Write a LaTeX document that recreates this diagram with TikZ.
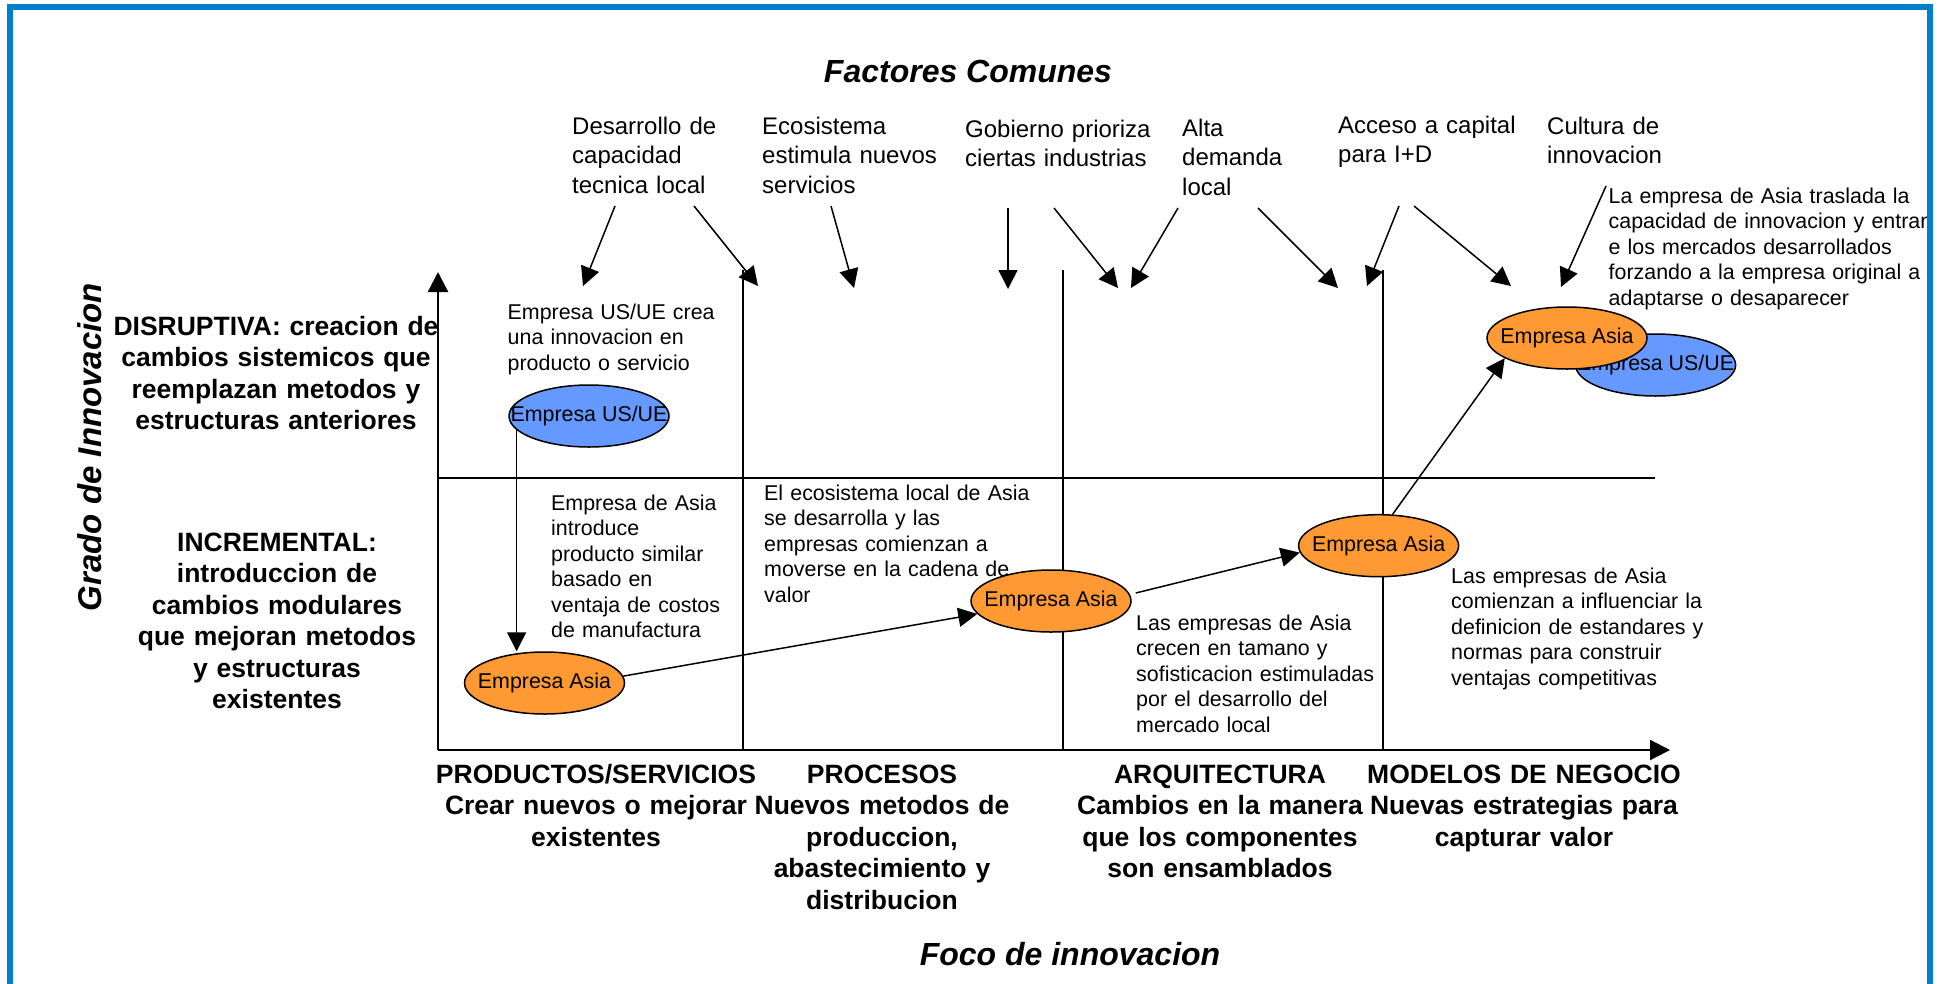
\documentclass[tikz,border=0pt]{standalone}
\usepackage{fontspec}
\setmainfont{Liberation Sans}
\usetikzlibrary{arrows.meta,shapes.geometric}
\definecolor{frameblue}{RGB}{0,128,204}
\definecolor{asiaorange}{RGB}{255,153,51}
\definecolor{usblue}{RGB}{102,153,255}
\tikzset{
  conn/.style={line width=1.5pt,-{Triangle[length=19pt,width=19pt]}},
  axisline/.style={line width=2.3pt,-{Triangle[length=20pt,width=20pt]}},
  divider/.style={line width=1.5pt},
  midline/.style={line width=2.3pt},
  emp/.style={ellipse,draw,line width=1.5pt,minimum width=160pt,minimum height=62pt,inner sep=0pt,font=\fontsize{21.4}{25}\selectfont},
  asia/.style={emp,fill=asiaorange},
  usue/.style={emp,fill=usblue},
  factor/.style={anchor=base west,inner sep=0pt,text width=260pt,align=left,font=\fontsize{24}{29.5}\selectfont},
  note/.style={anchor=base west,inner sep=0pt,text width=340pt,align=left,font=\fontsize{21.4}{25.5}\selectfont},
  cat/.style={anchor=base,inner sep=0pt,text width=400pt,align=center,font=\bfseries\fontsize{26.5}{31.5}\selectfont},
  bigtitle/.style={anchor=base,inner sep=0pt,font=\bfseries\itshape\fontsize{32}{38}\selectfont},
}
\begin{document}
\begin{tikzpicture}[x=1pt,y=-1pt]
\useasboundingbox (0,0) rectangle (1940,983);

% titles
\node[bigtitle] (title) at (968,82) {Factores Comunes};
\node[bigtitle] (xlab) at (1070,965) {Foco de innovacion};
\node[inner sep=0pt,rotate=90,font=\bfseries\itshape\fontsize{33}{40}\selectfont] (ylab) at (90,447) {Grado de Innovacion};

% grid
\coordinate (O) at (438,750);
\coordinate (ytop) at (438,272);
\coordinate (xend) at (1670,750);
\coordinate (mL) at (438,478);
\coordinate (mR) at (1655,478);
\coordinate (d1t) at (743,270);  \coordinate (d1b) at (743,750);
\coordinate (d2t) at (1063,270); \coordinate (d2b) at (1063,750);
\coordinate (d3t) at (1383,270); \coordinate (d3b) at (1383,750);
\draw[divider] (d1t) -- (d1b);
\draw[divider] (d2t) -- (d2b);
\draw[divider] (d3t) -- (d3b);
\draw[midline] (mL) -- (mR);
\draw[axisline] (O) -- (ytop);
\draw[axisline] (O) -- (xend);

% factor labels
\node[factor] (fDes) at (572,134) {Desarrollo de\\capacidad\\tecnica local};
\node[factor] (fEco) at (762,134) {Ecosistema\\estimula nuevos\\servicios};
\node[factor] (fGob) at (965,137) {Gobierno prioriza\\ciertas industrias};
\node[factor] (fAlta) at (1182,136) {Alta\\demanda\\local};
\node[factor] (fAcc) at (1338,133) {Acceso a capital\\para I+D};
\node[factor] (fCul) at (1547,134) {Cultura de\\innovacion};

% factor arrows
\coordinate (s1) at (615,206);  \coordinate (t1) at (583,286);
\coordinate (s2) at (694,206);  \coordinate (t2) at (758,286);
\coordinate (s3) at (831,206);  \coordinate (t3) at (854,288);
\coordinate (s4) at (1008,208); \coordinate (t4) at (1008,289);
\coordinate (s5) at (1054,208); \coordinate (t5) at (1118,288);
\coordinate (s6) at (1178,208); \coordinate (t6) at (1131,288);
\coordinate (s7) at (1258,208); \coordinate (t7) at (1338,288);
\coordinate (s8) at (1399,206); \coordinate (t8) at (1367,286);
\coordinate (s9) at (1414,206); \coordinate (t9) at (1511,286);
\coordinate (s10) at (1606,186); \coordinate (t10) at (1561,287);
\foreach \i in {1,...,10} {\draw[conn] (s\i) -- (t\i);}

% companies
\node[usue] (E1) at (589,416) {\makebox[0pt]{Empresa US/UE}};
\node[asia] (E2) at (544.5,683) {\makebox[0pt]{Empresa Asia}};
\node[asia] (E3) at (1051,601) {\makebox[0pt]{Empresa Asia}};
\node[asia] (E4) at (1378.6,545.7) {\makebox[0pt]{Empresa Asia}};
\node[usue] (E6) at (1655.6,365) {\makebox[0pt]{Empresa US/UE}};
\node[asia] (E5) at (1567,338) {\makebox[0pt]{Empresa Asia}};

\draw[conn] (E1.191) -- (E1.191 |- E2.north);
\draw[conn] (E2.5) -- (E3);
\draw[conn] ([shift={(4,-8)}]E3.east) -- (E4.185);
\draw[conn] (E4.66) -- (E5.198);

% notes
\node[note] (nUS) at (507.5,319) {Empresa US/UE crea\\una innovacion en\\producto o servicio};
\node[note] (nAsia) at (551,510) {Empresa de Asia\\introduce\\producto similar\\basado en\\ventaja de costos\\de manufactura};
\node[note] (nEco) at (764,500) {El ecosistema local de Asia\\se desarrolla y las\\empresas comienzan a\\moverse en la cadena de\\valor};
\node[note] (nCrec) at (1136,630) {Las empresas de Asia\\crecen en tamano y\\sofisticacion estimuladas\\por el desarrollo del\\mercado local};
\node[note] (nInf) at (1451,583) {Las empresas de Asia\\comienzan a influenciar la\\definicion de estandares y\\normas para construir\\ventajas competitivas};
\node[note] (nTras) at (1608.5,203) {La empresa de Asia traslada la\\capacidad de innovacion y entran\\e los mercados desarrollados\\forzando a la empresa original a\\adaptarse o desaparecer};

% side labels
\node[cat,text width=360pt] (dis) at (276,335) {DISRUPTIVA: creacion de\\cambios sistemicos que\\reemplazan metodos y\\estructuras anteriores};
\node[cat,text width=360pt] (inc) at (277,551) {INCREMENTAL:\\introduccion de\\cambios modulares\\que mejoran metodos\\y estructuras\\existentes};

% category labels
\node[cat] (cProd) at (596,783) {PRODUCTOS/SERVICIOS\\Crear nuevos o mejorar\\existentes};
\node[cat] (cProc) at (882,783) {PROCESOS\\Nuevos metodos de\\produccion,\\abastecimiento y\\distribucion};
\node[cat] (cArq) at (1220,783) {ARQUITECTURA\\Cambios en la manera\\que los componentes\\son ensamblados};
\node[cat] (cMod) at (1524,783) {MODELOS DE NEGOCIO\\Nuevas estrategias para\\capturar valor};

% frame
\draw[line width=6pt,frameblue] (9.5,7) rectangle (1930,1000);
\end{tikzpicture}
\end{document}
